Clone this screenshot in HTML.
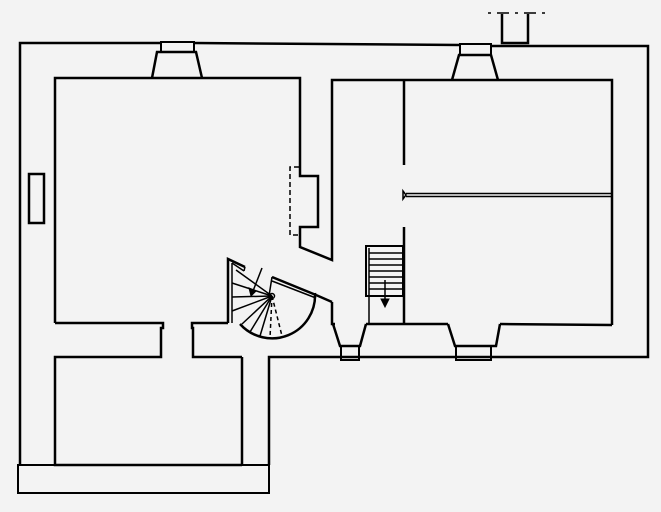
<!DOCTYPE html>
<html><head><meta charset="utf-8"><style>
html,body{margin:0;padding:0;background:#f3f3f3;}
svg{display:block}
</style></head><body>
<svg width="661" height="512" viewBox="0 0 661 512" xmlns="http://www.w3.org/2000/svg">
<rect width="661" height="512" fill="#f3f3f3"/>
<g fill="none" stroke="#000" stroke-width="2.5" stroke-linejoin="miter">
<!-- outer wall -->
<polyline points="20,465 20,43 161,43"/>
<polyline points="194,43 460,45"/>
<polyline points="491,46 648,46 648,357 269,357 269,465"/>
<polyline points="242,357 242,465"/>
<rect x="18" y="465" width="251" height="28" stroke-width="2"/>
<!-- top chimneys -->
<polyline points="152,78 157,52 196,52 202,78"/>
<rect x="161" y="42" width="33" height="10" stroke-width="2"/>
<polyline points="452,80 459,55 491,55 498,80"/>
<rect x="460" y="44" width="31" height="11" stroke-width="2"/>
<polyline points="502,14 502,43 528,43 528,14" stroke-width="2.5"/>
<line x1="488" y1="13" x2="545" y2="13" stroke-width="1.5" stroke-dasharray="3,6,12,6"/>
<!-- window left -->
<rect x="29" y="174" width="15" height="49" stroke-width="2.5"/>
<!-- left room -->
<polyline points="55,323 55,78 300,78 300,176 318,176 318,227 300,227 300,247 332,260 332,80 612,80 612,325"/>
<polyline points="55,323 163,323 163,328 161,328 161,357 55,357 55,465 242,465"/>
<polyline points="242,357 193,357 193,328 192,328 192,323 228,323"/>
<!-- dashed fireplace -->
<polyline points="299,167 290,167 290,235 299,235" stroke-width="1.5" stroke-dasharray="5,3"/>
<!-- bottom interior wall -->
<polyline points="332,302 332,324 335,324"/>
<polyline points="366,324 448,324"/>
<polyline points="500,324 612,325"/>
<!-- bottom chimneys -->
<polyline points="333,324 340,346 360,346 366,324"/>
<rect x="341" y="346" width="18" height="14" stroke-width="2"/>
<polyline points="448,324 455,346 496,346 500,324"/>
<rect x="456" y="346" width="35" height="14" stroke-width="2"/>
<!-- partitions -->
<line x1="404" y1="80" x2="404" y2="165"/>
<line x1="404" y1="227" x2="404" y2="324"/>
<line x1="406" y1="193.5" x2="612" y2="193.5" stroke-width="1.5"/>
<line x1="406" y1="196.5" x2="612" y2="196.5" stroke-width="1.5"/>
<path d="M403,191 L406,195 L403,199 Z" stroke-width="1.5"/>
<!-- straight stair -->
<rect x="366" y="246" width="37" height="50" stroke-width="2"/>
<g stroke-width="1.5">
<line x1="369" y1="253" x2="403" y2="253"/>
<line x1="369" y1="259" x2="403" y2="259"/>
<line x1="369" y1="265" x2="403" y2="265"/>
<line x1="369" y1="271" x2="403" y2="271"/>
<line x1="369" y1="277" x2="403" y2="277"/>
<line x1="369" y1="283" x2="403" y2="283"/>
<line x1="369" y1="289" x2="403" y2="289"/>
<line x1="369" y1="248" x2="369" y2="324"/>
<line x1="385" y1="280" x2="385" y2="300"/>
</g>
<path d="M381,299 L389,299 L385,307 Z" fill="#000" stroke-width="1"/>
<!-- spiral stair -->
<polyline points="228,323 228,259 245,267"/>
<polyline points="232,263 232,323" stroke-width="1.5"/>
<line x1="245" y1="267" x2="244" y2="271" stroke-width="1.5"/>
<line x1="232" y1="263" x2="244" y2="271" stroke-width="1.5"/>
<line x1="272" y1="277" x2="316" y2="295"/>
<line x1="272" y1="281" x2="316" y2="298" stroke-width="1.5"/>
<line x1="316" y1="295" x2="332" y2="302"/>
<path d="M240,324 A43,43 0 0 0 315,293"/>
<g stroke-width="1.5">
<line x1="272" y1="296" x2="236" y2="270"/>
<line x1="272" y1="296" x2="232" y2="283"/>
<line x1="272" y1="296" x2="232" y2="297"/>
<line x1="272" y1="296" x2="232" y2="311"/>
<line x1="272" y1="296" x2="242" y2="324"/>
<line x1="272" y1="296" x2="250" y2="332"/>
<line x1="272" y1="296" x2="260" y2="336"/>
<line x1="272" y1="296" x2="270" y2="338" stroke-dasharray="4,3"/>
<line x1="272" y1="296" x2="282" y2="336" stroke-dasharray="4,3"/>
<line x1="272" y1="277" x2="269" y2="296"/>
<line x1="262" y1="268" x2="253" y2="291"/>
</g>
<path d="M249,288 L256,291 L251,296 Z" fill="#000" stroke-width="1"/>
<circle cx="272" cy="296" r="2.5" stroke-width="1.5"/>
</g>
</svg>
</body></html>
